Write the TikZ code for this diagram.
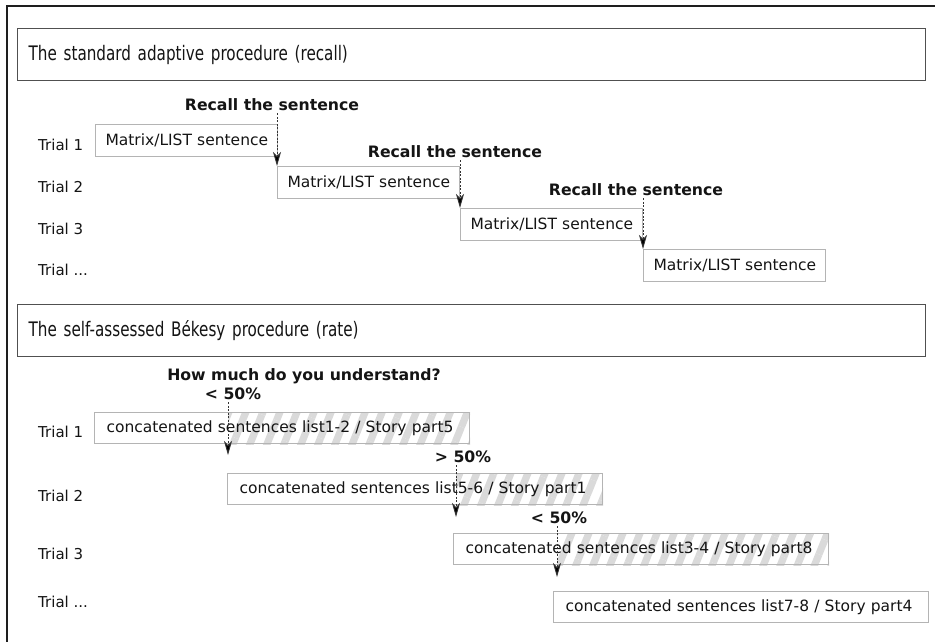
\documentclass[tikz,border=0pt]{standalone}
\usepackage{fontspec}
\setmainfont{DejaVu Sans}
\newfontfamily\titlefont{DejaVu Sans}[FakeStretch=0.76]
\usetikzlibrary{arrows.meta,backgrounds,patterns.meta}
\definecolor{hdr}{HTML}{505050}
\definecolor{boxc}{HTML}{B4B4B4}
\definecolor{framec}{HTML}{1E1E1E}
\definecolor{hatchc}{HTML}{DADADA}
\definecolor{txt}{HTML}{141414}
\tikzset{
  frameline/.style={draw=framec, line width=2.5pt},
  hbox/.style={anchor=north west, draw=hdr, line width=1.4pt, minimum height=52pt,
    text width=886pt, inner xsep=11pt, align=left, text=txt,
    font=\titlefont\fontsize{20}{24}\selectfont},
  trl/.style={anchor=base west, inner sep=0pt, text=txt, font=\fontsize{15}{18}\selectfont},
  mbox/.style={anchor=north west, draw=boxc, line width=1pt, minimum height=32pt,
    text width=162pt, inner xsep=10pt, align=left, text=txt,
    font=\fontsize{15.5}{18}\selectfont},
  cbox/.style={anchor=north west, draw=boxc, line width=1pt, minimum height=31pt,
    text width=351pt, inner xsep=12pt, align=left, text=txt,
    font=\fontsize{15.5}{18}\selectfont},
  blab/.style={anchor=base, inner ysep=3pt, text=txt, font=\bfseries\fontsize{15.7}{18}\selectfont},
  darr/.style={draw=black!80, line width=0.9pt, dash pattern=on 2pt off 1.5pt,
    -{Stealth[length=14pt,width=8pt,inset=4pt,fill=black]}},
  hatchfill/.style={pattern={Lines[angle=68,distance=15.8pt,line width=7.2pt]}, pattern color=hatchc}
}
\begin{document}
\begin{tikzpicture}[x=1pt,y=-1pt]
\useasboundingbox (0,0) rectangle (935,641);
% outer frame (top and left edges only)
\draw[frameline] (7,650) -- (7,6) -- (945,6);

% ---------- top section ----------
\node[hbox] (h1) at (17,28) {The standard adaptive procedure (recall)};

\node[trl] (tA1) at (38,150) {Trial 1};
\node[trl] (tA2) at (38,192) {Trial 2};
\node[trl] (tA3) at (38,234) {Trial 3};
\node[trl] (tA4) at (38,275) {Trial ...};

\node[mbox] (m1) at (95,124) {\mbox{Matrix/LIST sentence}};
\node[mbox] (m2) at (277,166) {\mbox{Matrix/LIST sentence}};
\node[mbox] (m3) at (460,208) {\mbox{Matrix/LIST sentence}};
\node[mbox] (m4) at (643,249) {\mbox{Matrix/LIST sentence}};

\node[blab] (L1) at (272,110) {Recall the sentence};
\node[blab] (L2) at (455,157) {Recall the sentence};
\node[blab] (L3) at (636,195) {Recall the sentence};

\draw[darr] (L1.south -| m2.north west) -- (m2.north west);
\draw[darr] (L2.south -| m3.north west) -- (m3.north west);
\draw[darr] (L3.south -| m4.north west) -- (m4.north west);

% ---------- bottom section ----------
\node[hbox] (h2) at (17,304) {The self-assessed Békesy procedure (rate)};

\node[trl] (tB1) at (38,437) {Trial 1};
\node[trl] (tB2) at (38,501) {Trial 2};
\node[trl] (tB3) at (38,559) {Trial 3};
\node[trl] (tB4) at (38,607) {Trial ...};

\node[cbox] (c1) at (94,412) {\mbox{concatenated sentences list1-2 / Story part5}};
\node[cbox] (c2) at (227,473) {\mbox{concatenated sentences list5-6 / Story part1}};
\node[cbox] (c3) at (453,533) {\mbox{concatenated sentences list3-4 / Story part8}};
\node[cbox] (c4) at (553,591) {\mbox{concatenated sentences list7-8 / Story part4}};

\node[blab] (Q)  at (304,380) {How much do you understand?};
\node[blab] (P1) at (233,399) {< 50\%};
\node[blab] (P2) at (463,462) {> 50\%};
\node[blab] (P3) at (559,523) {< 50\%};

\coordinate (t1) at (228,455);
\coordinate (t2) at (456,517);
\coordinate (t3) at (557,577);

\begin{scope}[on background layer]
  \fill[hatchfill] (t1 |- c1.north) rectangle (c1.south east);
  \fill[hatchfill] (t2 |- c2.north) rectangle (c2.south east);
  \fill[hatchfill] (t3 |- c3.north) rectangle (c3.south east);
\end{scope}

\draw[darr] (P1.south -| t1) -- (t1);
\draw[darr] (P2.south -| t2) -- (t2);
\draw[darr] (P3.south -| t3) -- (t3);
\end{tikzpicture}
\end{document}
